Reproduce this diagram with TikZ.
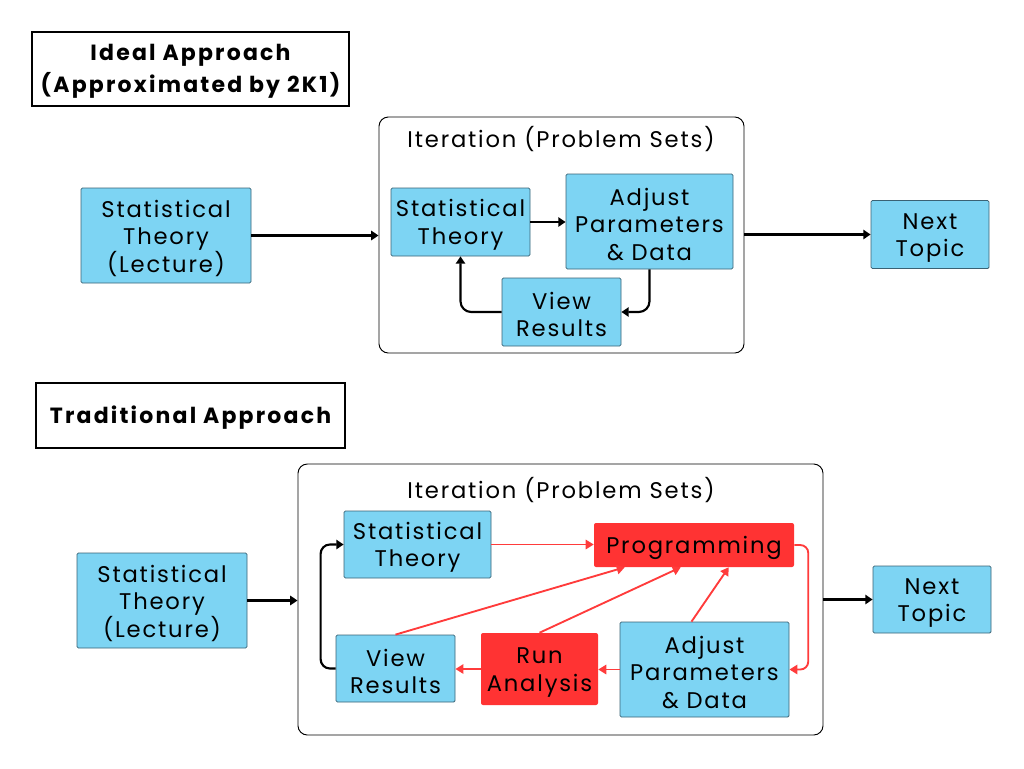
\documentclass[tikz,border=0pt]{standalone}
\usepackage{fontspec}
\setmainfont{Poppins}[LetterSpace=8]
\usetikzlibrary{arrows.meta,calc}
\definecolor{bluefill}{HTML}{7DD4F3}
\definecolor{blueedge}{HTML}{3A6274}
\definecolor{redfill}{HTML}{FF3333}
\definecolor{redline}{HTML}{FF3B3B}
\newcommand{\lift}{\rule{0pt}{17pt}}
\newcommand{\tlift}[1]{\rule{0pt}{#1}}
\tikzset{
  wh/.style 2 args={minimum width=#1*0.75pt, minimum height=#2*0.75pt},
  bluebox/.style={draw=blueedge, line width=0.6pt, fill=bluefill, rounded corners=1pt, inner sep=0pt, align=center, font=\fontsize{17}{20.6}\selectfont},
  redbox/.style={fill=redfill, rounded corners=1.5pt, inner sep=0pt, align=center, font=\fontsize{17}{20.6}\selectfont},
  titlebox/.style={draw=black, line width=0.8pt, inner sep=0pt, align=center, font=\bfseries\fontsize{16.5}{24.5}\selectfont\addfontfeature{LetterSpace=10}},
  iterbox/.style={draw=black, line width=0.7pt, rounded corners=7pt, inner sep=0pt},
  iterlabel/.style={font=\fontsize{17}{20}\selectfont, inner sep=0pt},
  blk/.style={draw=black, line width=1.6pt, -{Triangle[length=5.5pt,width=7pt]}},
  redarr/.style={draw=redline, line width=1.4pt, -{Triangle[length=6pt,width=7pt]}},
}
\begin{document}
\begin{tikzpicture}[x=0.75pt,y=-0.75pt]
\useasboundingbox (0,0) rectangle (1024,768);
% ---------- top ----------
\node[titlebox, wh={317}{74}] (title1) at (190.5,69) {\tlift{15.4pt}Ideal Approach\\(Approximated by 2K1)};
\node[iterbox, wh={365}{236}] (iter1) at (561.5,235) {};
\node[iterlabel] (itl1) at (561,139.5) {Iteration (Problem Sets)};
\node[bluebox, wh={170}{95}] (lec1) at (166,235.5) {\lift Statistical\\Theory\\(Lecture)};
\node[bluebox, wh={139}{68}] (st1) at (460.5,222) {\lift Statistical\\Theory};
\node[bluebox, wh={167}{95}] (adj1) at (649.5,221.5) {\lift Adjust\\Parameters\\\& Data};
\node[bluebox, wh={119}{68}] (view1) at (561.5,312) {\lift View\\Results};
\node[bluebox, wh={118}{68}] (next1) at (930,234.5) {\lift Next\\Topic};
\draw[blk] (lec1.east) -- (lec1.east -| iter1.west);
\draw[blk] (st1.east) -- (st1.east -| adj1.west);
\draw[blk, rounded corners=8pt] (adj1.south) |- (view1.east);
\draw[blk, rounded corners=8pt] (view1.west) -| (st1.south);
\draw[blk] (next1.west -| iter1.east) -- (next1.west);
% ---------- bottom ----------
\node[titlebox, wh={309}{65}] (title2) at (190.5,415.5) {\tlift{16.7pt}Traditional Approach};
\node[iterbox, wh={525}{271}] (iter2) at (560.5,599.5) {};
\node[iterlabel] (itl2) at (561,490.5) {Iteration (Problem Sets)};
\node[bluebox, wh={170}{95}] (lec2) at (162,600.5) {\lift Statistical\\Theory\\(Lecture)};
\node[bluebox, wh={147}{67}] (st2) at (417.5,544.5) {\lift Statistical\\Theory};
\node[redbox, wh={200}{44}] (prog) at (694,545) {\lift Programming};
\node[bluebox, wh={119}{67}] (view2) at (395.5,668.5) {\lift View\\Results};
\node[redbox, wh={117}{72}] (run) at (539.5,669) {\lift Run\\Analysis};
\node[bluebox, wh={169}{95}] (adj2) at (704.5,669.5) {\lift Adjust\\Parameters\\\& Data};
\node[bluebox, wh={118}{67}] (next2) at (932,599.5) {\lift Next\\Topic};
\draw[blk] (lec2.east) -- (lec2.east -| iter2.west);
\draw[blk] (next2.west -| iter2.east) -- (next2.west);
\draw[redarr] (st2.east) -- (st2.east -| prog.west);
\draw[redarr, rounded corners=6pt] (prog.east) -- ++(14,0) |- (adj2.east);
\draw[redarr] (adj2.west) -- (adj2.west -| run.east);
\draw[redarr] (run.west) -- (run.west -| view2.east);
\draw[redarr] (view2.north) -- ($(prog.south west)+(31,0)$);
\draw[redarr] (run.north) -- ($(prog.south west)+(87,0)$);
\draw[redarr] ($(adj2.north)+(-13,0)$) -- ($(prog.south west)+(135,0)$);
\draw[blk, rounded corners=7pt] (view2.west) -- ++(-15,0) |- (st2.west);
\end{tikzpicture}
\end{document}
